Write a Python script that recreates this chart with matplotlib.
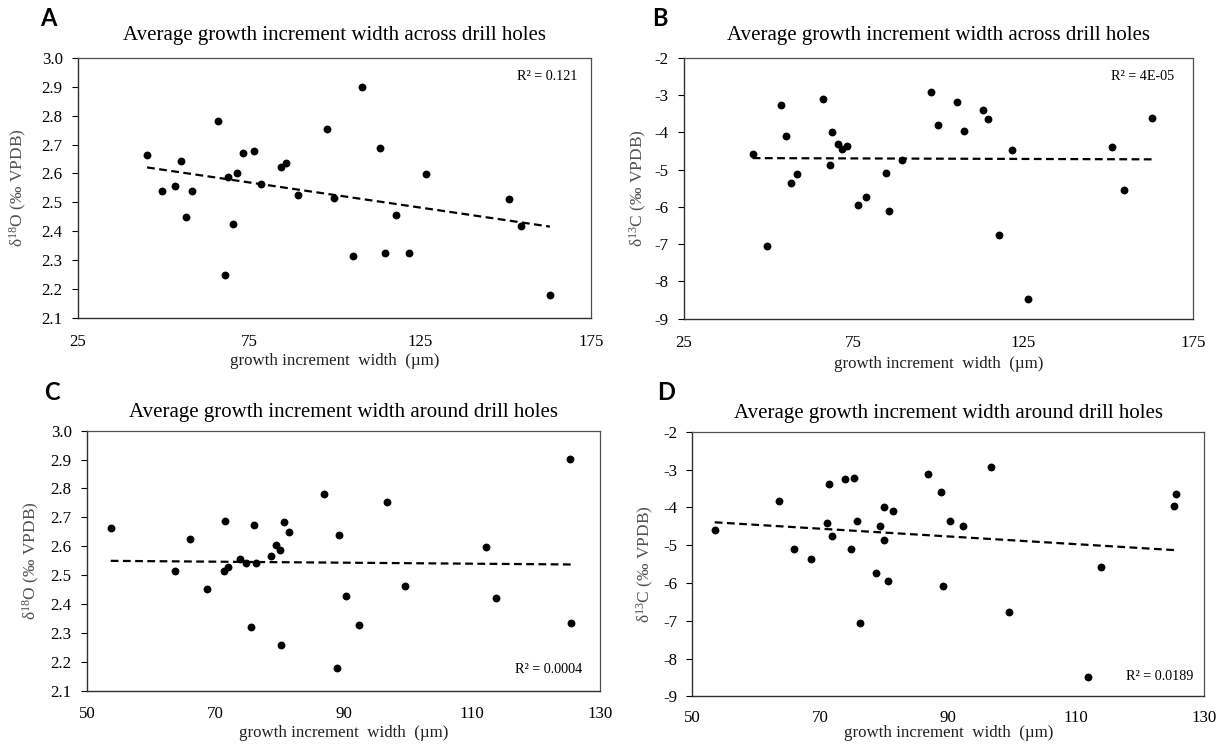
import numpy as np
import matplotlib
matplotlib.use("Agg")
import matplotlib.pyplot as plt

plt.rcParams["font.family"] = ["Liberation Serif", "DejaVu Serif"]
plt.rcParams["mathtext.default"] = "regular"

# ---------------- data ----------------
# widths measured across drill holes (panels A and B)
x_across = [45.2, 49.7, 53.5, 55.1, 56.6, 58.4, 66.0, 67.9, 69.0, 70.3,
            71.5, 73.2, 76.4, 78.4, 84.5, 85.7, 89.2, 97.8, 100.0, 105.3,
            108.0, 113.4, 114.8, 118.1, 121.8, 126.7, 151.1, 154.5, 163.0]
d18o_across = [2.664, 2.539, 2.555, 2.644, 2.447, 2.539, 2.780, 2.249, 2.586, 2.424,
               2.601, 2.672, 2.679, 2.563, 2.621, 2.636, 2.524, 2.754, 2.514, 2.314,
               2.901, 2.687, 2.325, 2.457, 2.325, 2.598, 2.512, 2.419, 2.179]
x_across_c = [45.3, 49.6, 53.5, 55.1, 56.5, 58.5, 66.1, 68.0, 68.7, 70.3,
              71.6, 73.0, 76.2, 78.7, 84.5, 85.6, 89.3, 97.8, 100.0, 105.4,
              107.6, 113.2, 114.7, 117.9, 121.6, 126.5, 151.2, 154.8, 162.9]
d13c_across = [-4.593, -7.06, -3.278, -4.092, -5.352, -5.111, -3.10, -4.87, -3.99, -4.315,
               -4.458, -4.36, -5.95, -5.737, -5.10, -6.10, -4.753, -2.92, -3.815, -3.19,
               -3.97, -3.395, -3.645, -6.765, -4.476, -8.472, -4.396, -5.558, -3.609]

# widths measured around drill holes (panels C and D)
x_around_o = [53.7, 63.7, 66.1, 68.7, 71.45, 71.3, 72.0, 73.9, 74.8, 76.0,
              76.4, 75.5, 78.7, 79.4, 80.0, 80.2, 80.7, 81.4, 86.9, 88.9,
              89.3, 90.3, 92.4, 96.7, 99.5, 112.1, 113.7, 125.3, 125.4]
d18o_around = [2.664, 2.513, 2.626, 2.451, 2.687, 2.513, 2.527, 2.556, 2.541, 2.672,
               2.541, 2.319, 2.565, 2.603, 2.587, 2.257, 2.685, 2.649, 2.781, 2.180,
               2.638, 2.429, 2.327, 2.753, 2.462, 2.598, 2.421, 2.901, 2.334]
x_around_c = [53.5, 63.6, 65.9, 68.5, 71.3, 71.1, 71.8, 73.9, 74.8, 75.3,
              75.8, 76.2, 78.7, 79.4, 79.9, 80.0, 80.6, 81.3, 86.9, 88.8,
              89.2, 90.2, 92.3, 96.7, 99.5, 111.9, 113.8, 125.3, 125.6]
d13c_around = [-4.60, -3.825, -5.103, -5.368, -3.384, -4.416, -4.75, -3.26, -5.103, -3.217,
               -4.363, -7.06, -5.729, -4.486, -4.00, -4.865, -5.958, -4.09, -3.12, -3.596,
               -6.07, -4.363, -4.486, -2.943, -6.76, -8.48, -5.579, -3.975, -3.657]

title_across = "Average growth increment width across drill holes"
title_around = "Average growth increment width around drill holes"
xlabel = "growth increment  width  (\u00b5m)"
ylabel_o = "\u03b4$^{18}$O (\u2030 VPDB)"
ylabel_c = "\u03b4$^{13}$C (\u2030 VPDB)"

panels = [
    # letter, rect, x, y, title, ylabel, xlim, xticks, ylim, yticks, yfmt,
    # r2 text, r2 pos (axes frac), letter pos (px), ylabel x (axes frac),
    # title pad, x tick pad, xlabel pad
    ("A", [0.0635, 0.5755, 0.4177, 0.3469], x_across, d18o_across, title_across, ylabel_o,
     (25, 175), [25, 75, 125, 175], (2.1, 3.0), np.arange(2.1, 3.01, 0.1), "{:.1f}",
     "R\u00b2 = 0.121", (0.973, 0.928), (48, 18), -0.095, 13, 12, 2),
    ("B", [0.5568, 0.5739, 0.4147, 0.3489], x_across_c, d13c_across, title_across, ylabel_c,
     (25, 175), [25, 75, 125, 175], (-9, -2), np.arange(-9, -1.9, 1), "{:.0f}",
     "R\u00b2 = 4E-05", (0.963, 0.927), (660, 18), -0.068, 13, 12, 3),
    ("C", [0.0708, 0.0766, 0.4182, 0.3476], x_around_o, d18o_around, title_around, ylabel_o,
     (50, 130), [50, 70, 90, 110, 130], (2.1, 3.0), np.arange(2.1, 3.01, 0.1), "{:.1f}",
     "R\u00b2 = 0.0004", (0.964, 0.080), (52, 392), -0.088, 10, 11, 2),
    ("D", [0.5638, 0.0691, 0.4169, 0.3537], x_around_c, d13c_around, title_around, ylabel_c,
     (50, 130), [50, 70, 90, 110, 130], (-9, -2), np.arange(-9, -1.9, 1), "{:.0f}",
     "R\u00b2 = 0.0189", (0.978, 0.074), (666, 392), -0.071, 10, 10, -1),
]

W, H = 1228, 748
fig = plt.figure(figsize=(W / 100, H / 100), dpi=100)

for (letter, rect, xs, ys, title, ylab, xlim, xticks, ylim, yticks, yfmt,
     r2, r2xy, lpos, ylx, tpad, xtpad, xlpad) in panels:
    ax = fig.add_axes(rect)
    xs = np.array(xs)
    ys = np.array(ys)
    ax.scatter(xs, ys, s=32, color="black", zorder=3, linewidths=0)

    # linear trendline
    k, b = np.polyfit(xs, ys, 1)
    xx = np.array([xs.min(), xs.max()])
    ax.plot(xx, k * xx + b, color="black", lw=1.6, ls=(0, (3.5, 2)), zorder=2)

    ax.set_xlim(*xlim)
    ax.set_ylim(*ylim)
    ax.set_xticks(xticks)
    ax.set_xticklabels([str(t) for t in xticks])
    ax.set_yticks(yticks)
    ax.set_yticklabels([yfmt.format(t) for t in yticks])
    ax.tick_params(axis="x", length=0, pad=xtpad, labelsize=12.2)
    ax.tick_params(axis="y", length=4, width=0.8, pad=7, labelsize=12.2)

    for side in ["top", "right"]:
        ax.spines[side].set_color("#505050")
        ax.spines[side].set_linewidth(0.9)
    for side in ["left", "bottom"]:
        ax.spines[side].set_color("#303030")
        ax.spines[side].set_linewidth(1.0)

    ax.set_title(title, fontsize=15, pad=tpad)
    ax.set_xlabel(xlabel, fontsize=12.2, color="#202020", labelpad=xlpad)
    ax.set_ylabel(ylab, fontsize=12.5, color="#505050")
    ax.yaxis.set_label_coords(ylx, 0.5)

    ax.text(r2xy[0], r2xy[1], r2, transform=ax.transAxes, ha="right", va="center",
            fontsize=10.2)

    # panel letter
    fig.text(lpos[0] / W, 1 - lpos[1] / H, letter, fontsize=17,
             fontweight="bold", family="Lato", ha="center", va="center")

fig.savefig("out.png", dpi=100, facecolor="white")
